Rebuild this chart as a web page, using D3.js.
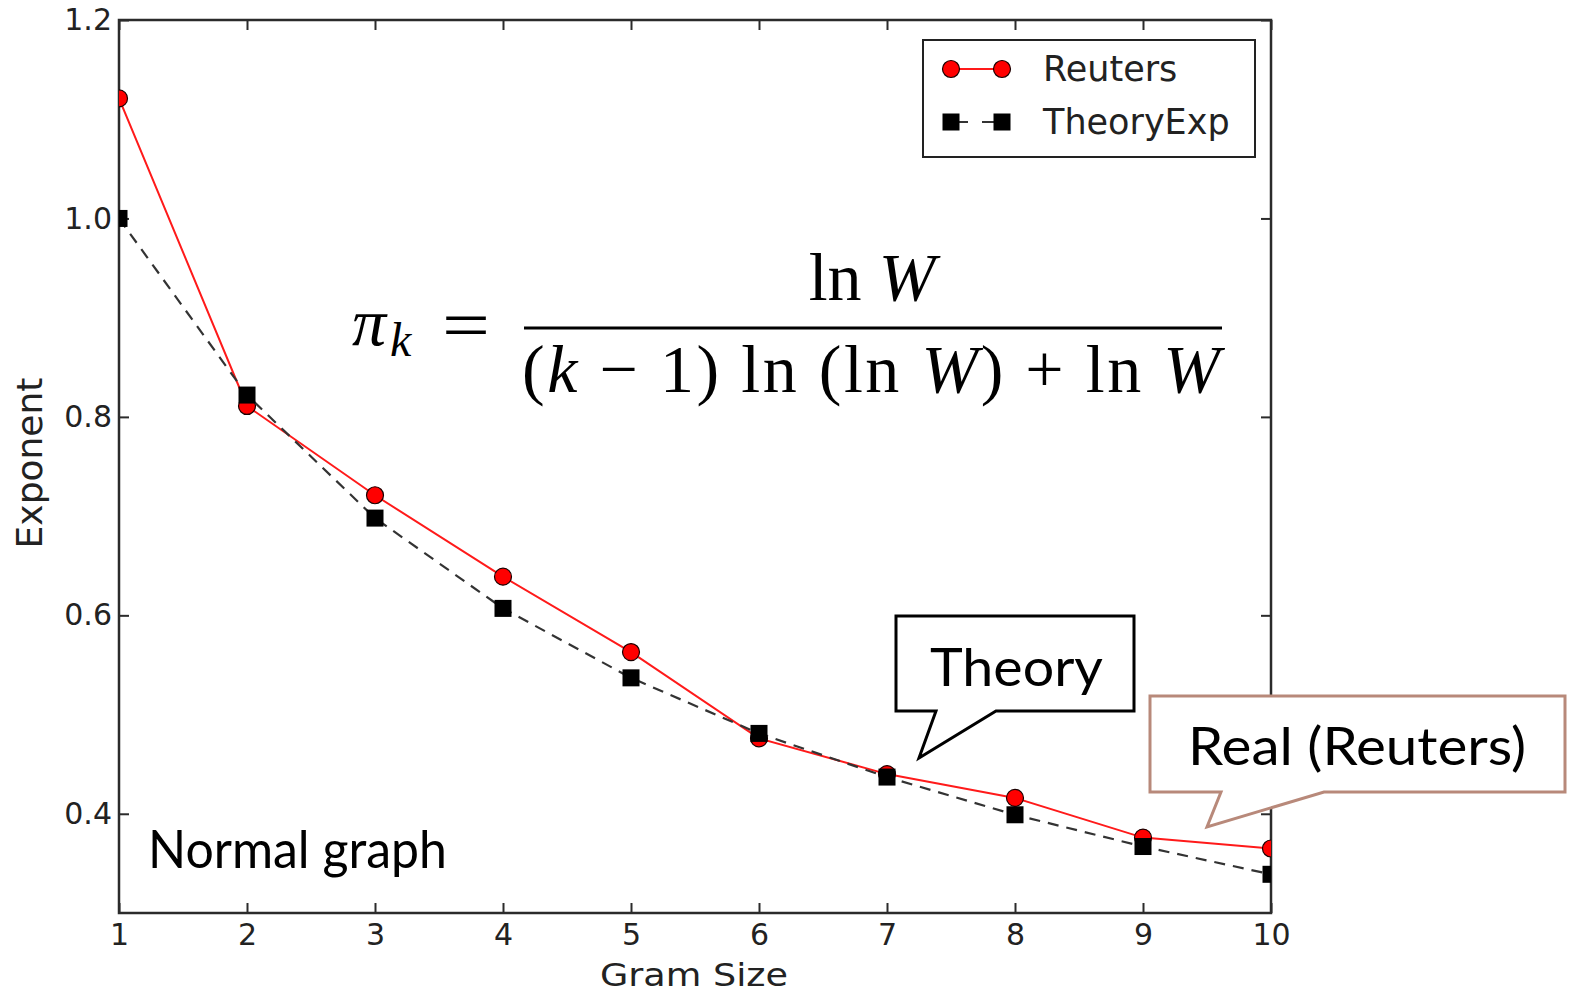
<!DOCTYPE html>
<html>
<head>
<meta charset="utf-8">
<script src="https://cdn.jsdelivr.net/npm/d3@7"></script>
<style>
  body { margin: 0; background: #fff; }
  svg { display: block; }
</style>
</head>
<body>
<svg id="chart" width="1573" height="994"></svg>
<script>
// values
var gramSizes = [1, 2, 3, 4, 5, 6, 7, 8, 9, 10];
var reuters   = [1.121, 0.811, 0.721, 0.639, 0.563, 0.476, 0.440, 0.416, 0.376, 0.365];
var theoryExp = [1.000, 0.822, 0.698, 0.607, 0.537, 0.481, 0.437, 0.399, 0.367, 0.339];
var yTicks = [0.4, 0.6, 0.8, 1.0, 1.2];
var seriesNames = ["Reuters", "TheoryExp"];

var svg = d3.select("#chart");
var plot = { left: 119, right: 1271, top: 20, bottom: 913 };

var x = d3.scaleLinear().domain([1, 10]).range([plot.left, plot.right]);
var y = d3.scaleLinear().domain([0.3, 1.2]).range([plot.bottom, plot.top]);

var tickFont = "DejaVu Sans, sans-serif";
var axisColor = "#2b2b2b";

svg.append("defs").append("clipPath").attr("id", "plotClip")
    .append("rect")
    .attr("x", plot.left).attr("y", plot.top)
    .attr("width", plot.right - plot.left).attr("height", plot.bottom - plot.top);

// axes: matplotlib-style inward ticks on all four sides
function styleAxis(g){
    g.select(".domain").remove();
    g.selectAll(".tick line").attr("stroke", axisColor).attr("stroke-width", 2);
    g.selectAll(".tick text").attr("fill", "#222").style("font-family", tickFont).style("font-size", "30px");
}

svg.append("g").attr("transform", "translate(0," + plot.bottom + ")")
    .call(d3.axisBottom(x).tickValues(gramSizes).tickFormat(d3.format("d")).tickSizeInner(-10).tickSizeOuter(0).tickPadding(11))
    .call(styleAxis);
svg.append("g").attr("transform", "translate(0," + plot.top + ")")
    .call(d3.axisTop(x).tickValues(gramSizes).tickFormat("").tickSizeInner(-10).tickSizeOuter(0))
    .call(styleAxis);
svg.append("g").attr("transform", "translate(" + plot.left + ",0)")
    .call(d3.axisLeft(y).tickValues(yTicks).tickFormat(d3.format(".1f")).tickSizeInner(-10).tickSizeOuter(0).tickPadding(7))
    .call(styleAxis);
svg.append("g").attr("transform", "translate(" + plot.right + ",0)")
    .call(d3.axisRight(y).tickValues(yTicks).tickFormat("").tickSizeInner(-10).tickSizeOuter(0))
    .call(styleAxis);

svg.append("rect")
    .attr("x", plot.left).attr("y", plot.top)
    .attr("width", plot.right - plot.left).attr("height", plot.bottom - plot.top)
    .attr("fill", "none").attr("stroke", axisColor).attr("stroke-width", 2.5);

// axis labels
svg.append("text")
    .attr("x", 694).attr("y", 986)
    .attr("text-anchor", "middle")
    .attr("textLength", 188).attr("lengthAdjust", "spacingAndGlyphs")
    .style("font-family", tickFont).style("font-size", "32px").attr("fill", "#222")
    .text("Gram Size");
svg.append("text")
    .attr("transform", "translate(42,463) rotate(-90)")
    .attr("text-anchor", "middle")
    .style("font-family", tickFont).style("font-size", "36px").attr("fill", "#222")
    .text("Exponent");

// series
var plotArea = svg.append("g").attr("clip-path", "url(#plotClip)");
var seriesLine = d3.line().x(function(d, i){ return x(gramSizes[i]); }).y(function(d){ return y(d); });

plotArea.append("path").datum(reuters)
    .attr("d", seriesLine)
    .attr("fill", "none").attr("stroke", "#ff1a1a").attr("stroke-width", 2);
plotArea.selectAll(".reuters-pt").data(reuters).enter().append("circle")
    .attr("class", "reuters-pt")
    .attr("cx", function(d, i){ return x(gramSizes[i]); })
    .attr("cy", function(d){ return y(d); })
    .attr("r", 8.5)
    .attr("fill", "#ff0000").attr("stroke", "#1a0000").attr("stroke-width", 1.2);

plotArea.append("path").datum(theoryExp)
    .attr("d", seriesLine)
    .attr("fill", "none").attr("stroke", "#333").attr("stroke-width", 2.2)
    .attr("stroke-dasharray", "11,8");
var sq = 17;
plotArea.selectAll(".theory-pt").data(theoryExp).enter().append("rect")
    .attr("class", "theory-pt")
    .attr("x", function(d, i){ return x(gramSizes[i]) - sq / 2; })
    .attr("y", function(d){ return y(d) - sq / 2; })
    .attr("width", sq).attr("height", sq)
    .attr("fill", "#000");

// legend
var legend = svg.append("g");
legend.append("rect")
    .attr("x", 923).attr("y", 40).attr("width", 332).attr("height", 117)
    .attr("fill", "#fff").attr("stroke", "#222").attr("stroke-width", 2);
legend.append("line")
    .attr("x1", 951).attr("x2", 1002).attr("y1", 69).attr("y2", 69)
    .attr("stroke", "#ff1a1a").attr("stroke-width", 2);
[951, 1002].forEach(function(cx){
    legend.append("circle").attr("cx", cx).attr("cy", 69).attr("r", 8.5)
        .attr("fill", "#ff0000").attr("stroke", "#1a0000").attr("stroke-width", 1.2);
});
legend.append("line")
    .attr("x1", 951).attr("x2", 1002).attr("y1", 122).attr("y2", 122)
    .attr("stroke", "#333").attr("stroke-width", 2.2).attr("stroke-dasharray", "17,14");
[951, 1002].forEach(function(cx){
    legend.append("rect").attr("x", cx - sq / 2).attr("y", 122 - sq / 2)
        .attr("width", sq).attr("height", sq).attr("fill", "#000");
});
legend.selectAll(".legend-label").data(seriesNames).enter().append("text")
    .attr("class", "legend-label")
    .attr("x", 1043)
    .attr("y", function(d, i){ return 81 + i * 53; })
    .style("font-family", tickFont).style("font-size", "35px").attr("fill", "#222")
    .text(function(d){ return d; });

// formula
var mathFont = "Liberation Serif, Times New Roman, serif";
var formula = svg.append("g").style("font-family", mathFont).attr("fill", "#000");
formula.append("text").attr("x", 352).attr("y", 345)
    .style("font-size", "68px").style("font-style", "italic").text("π");
formula.append("text").attr("x", 390).attr("y", 356)
    .style("font-size", "48px").style("font-style", "italic").text("k");
formula.append("text").attr("x", 442).attr("y", 349)
    .attr("textLength", 48).attr("lengthAdjust", "spacingAndGlyphs")
    .style("font-size", "70px").text("=");
formula.append("line")
    .attr("x1", 524).attr("x2", 1222).attr("y1", 328).attr("y2", 328)
    .attr("stroke", "#000").attr("stroke-width", 3);
var num = formula.append("text").attr("x", 872).attr("y", 300)
    .attr("text-anchor", "middle").style("font-size", "68px");
num.append("tspan").text("ln ");
num.append("tspan").style("font-style", "italic").text("W");
var den = formula.append("text").attr("x", 522).attr("y", 392)
    .attr("textLength", 698).attr("lengthAdjust", "spacing")
    .style("font-size", "68px");
den.append("tspan").text("(");
den.append("tspan").style("font-style", "italic").text("k");
den.append("tspan").text(" − 1) ln (ln ");
den.append("tspan").style("font-style", "italic").text("W");
den.append("tspan").text(") + ln ");
den.append("tspan").style("font-style", "italic").text("W");

// annotations
var noteFont = "Lato, Open Sans, sans-serif";
svg.append("text").attr("x", 148).attr("y", 868)
    .attr("textLength", 299).attr("lengthAdjust", "spacingAndGlyphs")
    .style("font-family", noteFont).style("font-size", "52px").attr("fill", "#000")
    .text("Normal graph");

svg.append("path")
    .attr("d", "M896,616 L1134,616 L1134,711 L996,711 L919,758 L936,711 L896,711 Z")
    .attr("fill", "#fff").attr("stroke", "#000").attr("stroke-width", 3).attr("stroke-linejoin", "miter");
svg.append("text").attr("x", 930).attr("y", 686)
    .attr("textLength", 173).attr("lengthAdjust", "spacingAndGlyphs")
    .style("font-family", noteFont).style("font-size", "53px").attr("fill", "#000")
    .text("Theory");

svg.append("path")
    .attr("d", "M1150,696 L1565,696 L1565,792 L1324,792 L1207,827 L1221,792 L1150,792 Z")
    .attr("fill", "#fff").attr("stroke", "#b8897a").attr("stroke-width", 3);
svg.append("text").attr("x", 1188).attr("y", 765)
    .attr("textLength", 338).attr("lengthAdjust", "spacingAndGlyphs")
    .style("font-family", noteFont).style("font-size", "53px").attr("fill", "#000")
    .text("Real (Reuters)");
</script>
</body>
</html>
